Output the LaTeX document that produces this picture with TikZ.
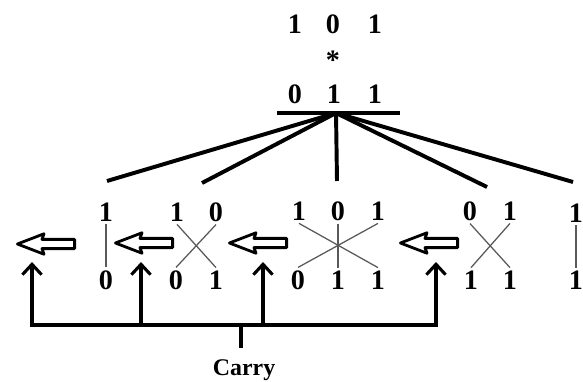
\documentclass[tikz,border=0pt]{standalone}
\usepackage{fontspec}
\setmainfont{Liberation Serif}
\usetikzlibrary{arrows.meta,shapes.arrows}

\begin{document}
\begin{tikzpicture}[
        x=0.025cm, y=-0.025cm,
        bit/.style={font=\fontsize{20}{22}\selectfont\bfseries, inner sep=2pt},
        fan/.style={line width=2.8pt},
        link/.style={line width=0.9pt, draw=black!65},
        hollow/.style={single arrow, draw, line width=2pt, line join=round, shape border rotate=180,
            minimum height=1.43cm, single arrow head extend=0.14cm, single arrow head indent=0.05cm,
            single arrow tip angle=42, inner sep=0.08cm},
        barb/.tip={Straight Barb[length=2.6mm,width=4.8mm]},
        carry/.style={line width=2.2pt, barb-barb},
        up/.style={line width=2.2pt, -barb}
    ]
    \useasboundingbox (0,0) rectangle (583,381);

    % operands
    \node[bit] (a1) at (295,24) {1};
    \node[bit] (a2) at (333,24) {0};
    \node[bit] (a3) at (375,24) {1};
    \node[bit] (mul) at (333,60) {*};
    \node[bit] (b1) at (295,94) {0};
    \node[bit] (b2) at (334,94) {1};
    \node[bit] (b3) at (375,94) {1};
    \coordinate (ul) at (277,113);
    \coordinate (ur) at (400,113);
    \coordinate (root) at (336,113);
    \draw[fan] (ul) -- (ur);

    % fan out to the partial products
    \coordinate (f1) at (107,181);
    \coordinate (f2) at (202,183);
    \coordinate (f3) at (337,181);
    \coordinate (f4) at (487,187);
    \coordinate (f5) at (573,182);
    \foreach \f in {f1,f2,f3,f4,f5}
        \draw[fan] (root) -- (\f);

    % column 1
    \node[bit] (p1t) at (106,212) {1};
    \node[bit] (p1b) at (106,280) {0};
    \draw[link] (p1t.south) -- (p1b.north);

    % column 2
    \node[bit] (p2t1) at (177,212) {1};
    \node[bit] (p2t2) at (216,212) {0};
    \node[bit] (p2b1) at (176,280) {0};
    \node[bit] (p2b2) at (216,280) {1};
    \draw[link] (p2t1.south) -- (p2b2.north);
    \draw[link] (p2t2.south) -- (p2b1.north);

    % column 3
    \node[bit] (p3t1) at (299,211) {1};
    \node[bit] (p3t2) at (338,211) {0};
    \node[bit] (p3t3) at (378,211) {1};
    \node[bit] (p3b1) at (298,280) {0};
    \node[bit] (p3b2) at (338,280) {1};
    \node[bit] (p3b3) at (378,280) {1};
    \draw[link] (p3t1.south) -- (p3b3.north);
    \draw[link] (p3t2.south) -- (p3b2.north);
    \draw[link] (p3t3.south) -- (p3b1.north);

    % column 4
    \node[bit] (p4t1) at (470,211) {0};
    \node[bit] (p4t2) at (510,211) {1};
    \node[bit] (p4b1) at (471,280) {1};
    \node[bit] (p4b2) at (510,280) {1};
    \draw[link] (p4t1.south) -- (p4b2.north);
    \draw[link] (p4t2.south) -- (p4b1.north);

    % column 5
    \node[bit] (p5t) at (576,213) {1};
    \node[bit] (p5b) at (576,280) {1};
    \draw[link] (p5t.south) -- (p5b.north);

    % carries passed to the left
    \node[hollow] (h1) at (52,244) {};
    \node[hollow] (h2) at (150,243) {};
    \node[hollow] (h3) at (264,243) {};
    \node[hollow] (h4) at (435,243) {};

    \node[font=\fontsize{17}{19}\selectfont\bfseries, inner sep=2pt, anchor=base] (lbl) at (244,375) {Carry};
    \coordinate (bus) at (241,325);
    \coordinate (u1) at (32,262);
    \coordinate (u2) at (141,262);
    \coordinate (u3) at (263,262);
    \coordinate (u4) at (436,262);
    \draw[carry] (u1) -- (u1 |- bus) -- (u4 |- bus) -- (u4);
    \draw[up] (u2 |- bus) -- (u2);
    \draw[up] (u3 |- bus) -- (u3);
    \draw[line width=2.2pt, shorten >=0.19cm] (bus) -- (bus |- lbl.north);
\end{tikzpicture}
\end{document}
